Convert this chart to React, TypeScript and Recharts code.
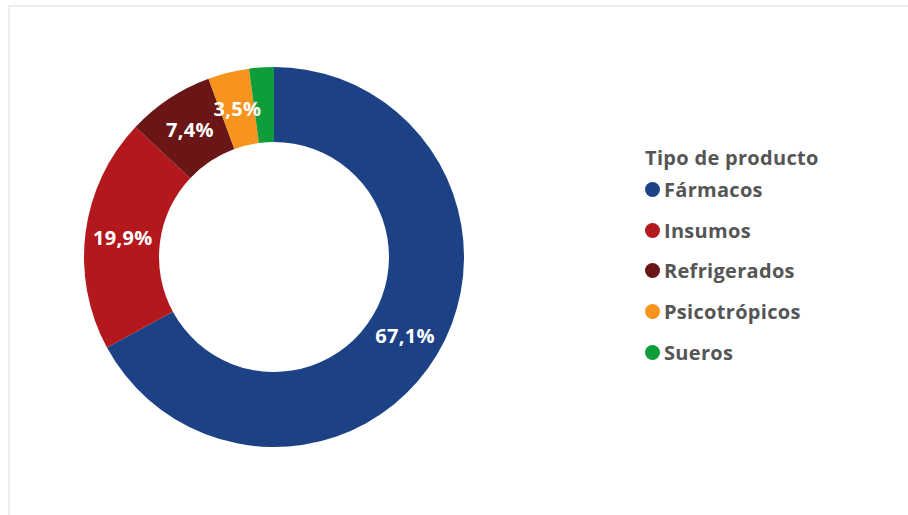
import React from 'react';
import { PieChart, Pie, Cell, Legend } from 'recharts';

const categories = ['Fármacos', 'Insumos', 'Refrigerados', 'Psicotrópicos', 'Sueros'];
const shares = [67.1, 19.9, 7.4, 3.5, 2.1];
const colors = ['#1C4185', '#B3181D', '#6A1516', '#F7941E', '#0D9E3B'];
const legendTitle = 'Tipo de producto';

const data = categories.map((name, i) => ({ name, value: shares[i] }));

const RADIAN = Math.PI / 180;
const FONT = '"Open Sans", "Noto Sans", sans-serif';

const renderLabel = (props: any) => {
  const { cx, cy, midAngle, innerRadius, outerRadius, percent } = props;
  if (percent < 0.03) return null;
  const r = (innerRadius + outerRadius) / 2;
  const x = cx + r * Math.cos(-midAngle * RADIAN);
  const y = cy + r * Math.sin(-midAngle * RADIAN);
  return (
    <text
      x={x}
      y={y}
      fill="#ffffff"
      textAnchor="middle"
      dominantBaseline="central"
      style={{ fontFamily: FONT, fontWeight: 700, fontSize: 20, letterSpacing: 0.3 }}
    >
      {(percent * 100).toFixed(1).replace('.', ',') + '%'}
    </text>
  );
};

const LegendBox = () => (
  <div style={{ fontFamily: FONT, color: '#555555', fontWeight: 700 }}>
    <div style={{ fontSize: 20, lineHeight: '22px', marginBottom: 10, letterSpacing: 0.3 }}>{legendTitle}</div>
    {categories.map((name, i) => (
      <div key={name} style={{ display: 'flex', alignItems: 'center', height: 40.7, marginTop: i === 0 ? -10 : 0 }}>
        <span
          style={{
            width: 15,
            height: 15,
            borderRadius: 8,
            background: colors[i],
            display: 'inline-block',
            marginRight: 4,
          }}
        />
        <span style={{ fontSize: 20, letterSpacing: 0.3 }}>{name}</span>
      </div>
    ))}
  </div>
);

export default function App() {
  return (
    <div
      style={{
        position: 'absolute',
        left: 8,
        top: 5,
        width: 900,
        height: 510,
        borderTop: '2px solid #eeeeee',
        borderLeft: '2px solid #eeeeee',
        background: '#ffffff',
      }}
    >
      <PieChart width={898} height={508}>
        <Pie
          data={data}
          dataKey="value"
          nameKey="name"
          cx={259}
          cy={245}
          innerRadius={115}
          outerRadius={190}
          startAngle={90}
          endAngle={-270}
          stroke="none"
          labelLine={false}
          label={renderLabel}
          isAnimationActive={false}
        >
          {data.map((d, i) => (
            <Cell key={d.name} fill={colors[i]} />
          ))}
        </Pie>
        <Legend
          content={<LegendBox />}
          wrapperStyle={{ position: 'absolute', left: 635, top: 140, width: 240 }}
        />
      </PieChart>
    </div>
  );
}
